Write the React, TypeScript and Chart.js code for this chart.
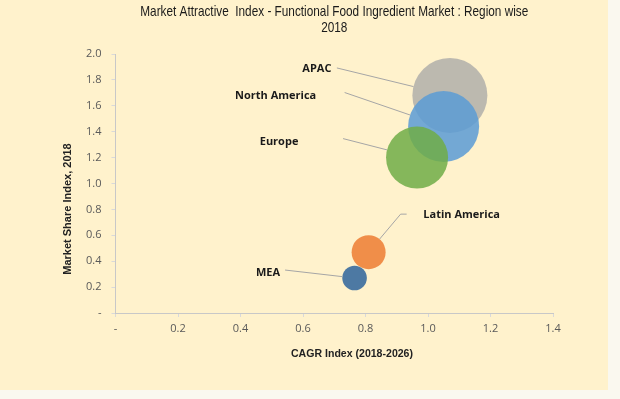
import React, { useEffect, useRef } from "react";
import { Chart, registerables } from "chart.js";

Chart.register(...registerables);

// ---- data ----
const regions = ["APAC", "North America", "Europe", "Latin America", "MEA"];
const cagrIndex = [1.07, 1.05, 0.965, 0.81, 0.765];
const marketShareIndex = [1.68, 1.44, 1.2, 0.47, 0.27];
const bubbleSize = [37.5, 35.5, 31, 17, 12.3];
const xTickValues = [0, 0.2, 0.4, 0.6, 0.8, 1.0, 1.2, 1.4];
const yTickValues = [0, 0.2, 0.4, 0.6, 0.8, 1.0, 1.2, 1.4, 1.6, 1.8, 2.0];

const titleLines = [
  "Market Attractive  Index - Functional Food Ingredient Market : Region wise",
  "2018",
];
const xAxisTitle = "CAGR Index (2018-2026)";
const yAxisTitle = "Market Share Index, 2018";

// ---- styles ----
const bubbleColors = [
  "rgba(165,165,165,0.75)",
  "rgba(91,155,213,0.85)",
  "rgba(112,173,71,0.85)",
  "rgba(237,125,49,0.85)",
  "rgba(46,100,155,0.85)",
];
// label placement relative to bubble centre (pixels): text centre, leader start
const labelPlacement = [
  { tx: -133, ty: -26.5, lx: -113, ly: -27.5 },
  { tx: -168, ty: -31, lx: -99, ly: -34 },
  { tx: -138, ty: -16, lx: -74, ly: -19 },
  { tx: 93, ty: -37, lx: 32, ly: -38, hook: 6 },
  { tx: -86.5, ty: -5, lx: -69.5, ly: -8 },
];

const fmt = (v: number) => (Math.abs(v) < 1e-9 ? "-" : v.toFixed(1));

const decorPlugin = {
  id: "decor",
  beforeDraw(chart: any) {
    const ctx = chart.ctx;
    ctx.save();
    ctx.fillStyle = "#FAF8EF";
    ctx.fillRect(0, 0, chart.width, chart.height);
    ctx.fillStyle = "#FFF2CC";
    ctx.fillRect(0, 0, 608, 390);
    ctx.restore();
  },
  afterDraw(chart: any) {
    const ctx = chart.ctx;
    const xs = chart.scales.x;
    const ys = chart.scales.y;
    ctx.save();
    // title (horizontally condensed like a narrow face)
    ctx.fillStyle = "#1a1a1a";
    ctx.textAlign = "center";
    ctx.textBaseline = "middle";
    ctx.font = '15px "Liberation Sans Narrow", "Liberation Sans", Arial, sans-serif';
    const cx = (chart.chartArea.left + chart.chartArea.right) / 2;
    const w = ctx.measureText(titleLines[0]).width;
    const k = Math.min(1, 388 / w);
    ctx.save();
    ctx.translate(cx, 0);
    ctx.scale(k, 1);
    ctx.fillText(titleLines[0], 0, 12);
    ctx.fillText(titleLines[1], 0, 28);
    ctx.restore();

    // axis titles
    ctx.font = 'bold 11px "Liberation Sans Narrow", "Liberation Sans", Arial, sans-serif';
    ctx.fillStyle = "#222";
    ctx.fillText(xAxisTitle, 352, 354, 122);
    ctx.save();
    ctx.translate(68, 209);
    ctx.rotate(-Math.PI / 2);
    ctx.fillText(yAxisTitle, 0, 0, 142);
    ctx.restore();

    // labels & leader lines
    ctx.font = 'bold 11px "Open Sans", "Liberation Sans", Arial, sans-serif';
    regions.forEach((name, i) => {
      const px = xs.getPixelForValue(cagrIndex[i]);
      const py = ys.getPixelForValue(marketShareIndex[i]);
      const p: any = labelPlacement[i];
      const r = bubbleSize[i];
      const sx = px + p.lx;
      const sy = py + p.ly;
      const len = Math.hypot(p.lx, p.ly);
      const ex = px + (p.lx / len) * r;
      const ey = py + (p.ly / len) * r;
      ctx.strokeStyle = "#A6A6A6";
      ctx.lineWidth = 1;
      ctx.beginPath();
      ctx.moveTo(ex, ey);
      ctx.lineTo(sx, sy);
      if (p.hook) ctx.lineTo(sx + p.hook, sy);
      ctx.stroke();
      ctx.fillStyle = "#1a1a1a";
      ctx.fillText(name, px + p.tx, py + p.ty);
    });
    ctx.restore();
  },
};

export default function App() {
  const ref = useRef<HTMLCanvasElement>(null);
  useEffect(() => {
    if (!ref.current) return;
    const chart = new Chart(ref.current, {
      type: "bubble",
      data: {
        datasets: [
          {
            label: "Regions",
            data: regions.map((_, i) => ({
              x: cagrIndex[i],
              y: marketShareIndex[i],
              r: bubbleSize[i],
            })),
            backgroundColor: bubbleColors,
            borderWidth: 0,
          },
        ],
      },
      options: {
        responsive: false,
        animation: false,
        devicePixelRatio: 1,
        layout: { padding: { top: 54, right: 67, left: 0, bottom: 0 } },
        plugins: {
          legend: { display: false },
          tooltip: { enabled: false },
          title: { display: false },
        },
        scales: {
          x: {
            type: "linear",
            min: 0,
            max: 1.4,
            afterFit: (s: any) => {
              s.height = 86;
            },
            afterBuildTicks: (s: any) => {
              s.ticks = xTickValues.map((v) => ({ value: v }));
            },
            ticks: {
              callback: (v: any) => fmt(Number(v)),
              color: "#595959",
              font: { size: 11, family: '"Open Sans", "Liberation Sans", sans-serif' },
              padding: 5,
              maxRotation: 0,
            },
            grid: {
              drawOnChartArea: false,
              drawTicks: true,
              tickLength: 4,
              color: "#D9D9D9",
            },
            border: { display: true, color: "#C8C8C8" },
          },
          y: {
            type: "linear",
            min: 0,
            max: 2,
            afterFit: (s: any) => {
              s.width = 115.5;
            },
            afterBuildTicks: (s: any) => {
              s.ticks = yTickValues.map((v) => ({ value: v }));
            },
            ticks: {
              callback: (v: any) => fmt(Number(v)),
              color: "#595959",
              font: { size: 11, family: '"Open Sans", "Liberation Sans", sans-serif' },
              padding: 10,
            },
            grid: {
              drawOnChartArea: false,
              drawTicks: true,
              tickLength: 4,
              color: "#D9D9D9",
            },
            border: { display: true, color: "#C8C8C8" },
          },
        },
      },
      plugins: [decorPlugin],
    } as any);
    return () => chart.destroy();
  }, []);
  return (
    <div style={{ position: "fixed", left: 0, top: 0, width: 620, height: 399 }}>
      <canvas ref={ref} width={620} height={399} style={{ display: "block" }} />
    </div>
  );
}
